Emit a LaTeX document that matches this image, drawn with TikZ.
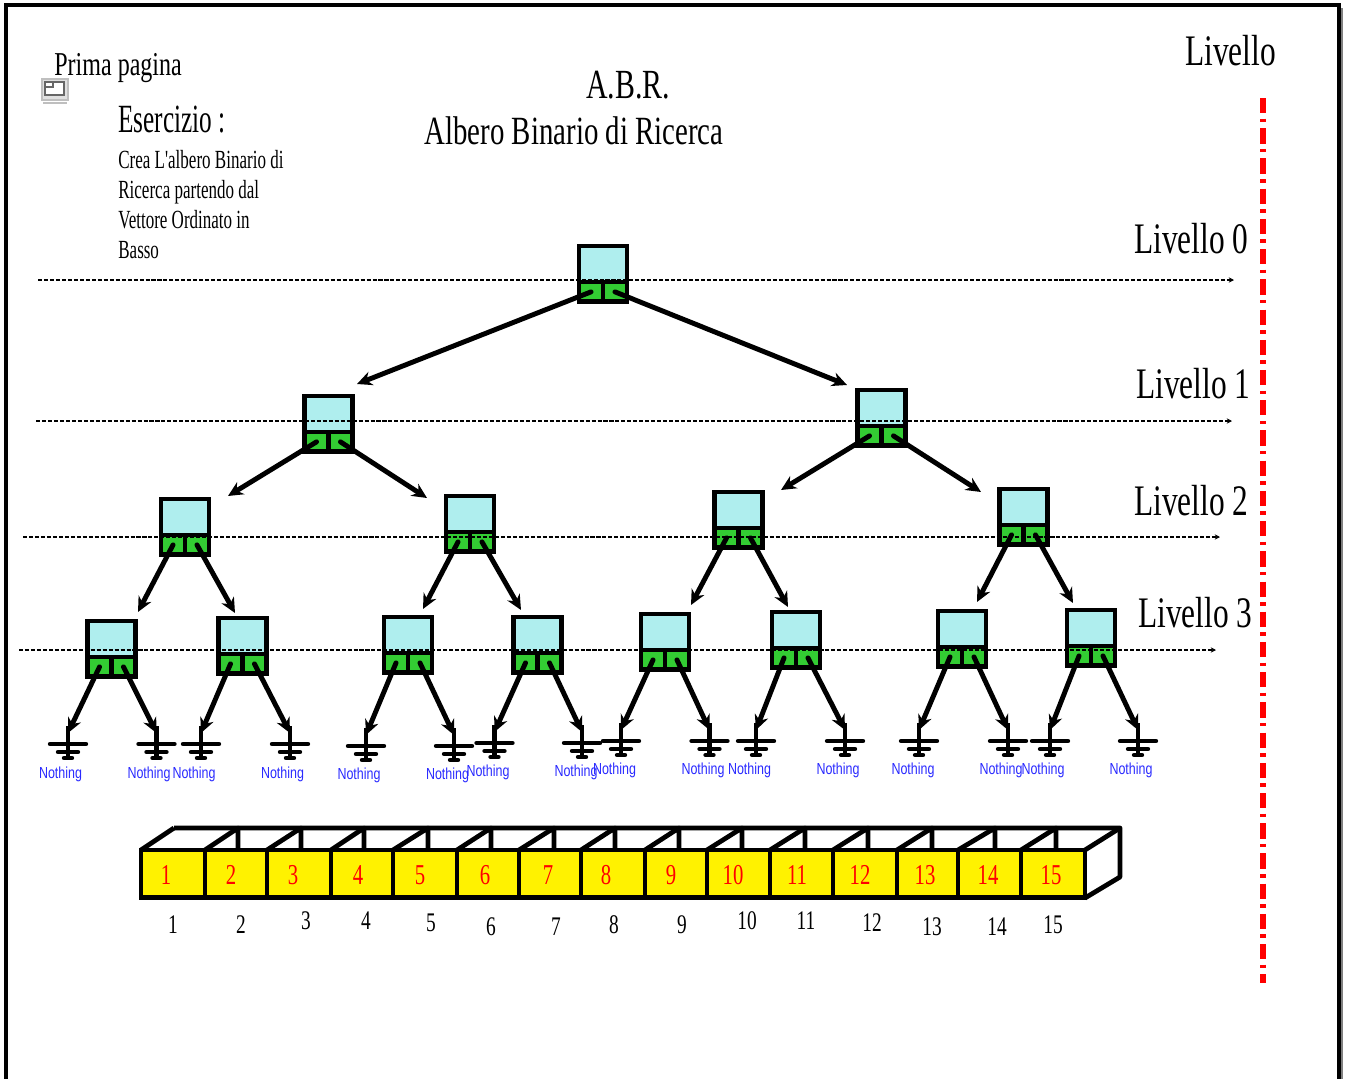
\documentclass[tikz,border=0pt]{standalone}
\usepackage{fontspec}
\usetikzlibrary{arrows.meta}
\newfontfamily\narrowserif[FakeStretch=0.72]{Liberation Serif}
\newfontfamily\tallserif[FakeStretch=0.63]{Liberation Serif}
\newfontfamily\bodyserif[FakeStretch=0.65]{Liberation Serif}
\newfontfamily\narrowsans[FakeStretch=0.78]{Liberation Sans}
\definecolor{cellcyan}{HTML}{AFEEEE}
\definecolor{ptrgreen}{HTML}{33CC33}
\definecolor{nothingblue}{HTML}{2A2AFF}
\begin{document}
\begin{tikzpicture}[x=0.02cm, y=0.02cm]
    \tikzstyle{every node}+=[inner sep=0pt]
    \tikzstyle{keycell}=[draw=black, line width=2.7pt, fill=cellcyan, outer sep=0pt, minimum width=27.2pt, minimum height=20.4pt]
    \tikzstyle{ptrcell}=[draw=black, line width=2.7pt, fill=ptrgreen, outer sep=0pt, minimum width=13.6pt, minimum height=11.3pt]
    \tikzstyle{link}=[line width=2.8pt, line cap=round, -{Stealth[length=8.5pt,width=8pt]}]
    \tikzstyle{levelline}=[line width=0.7pt, dash pattern=on 2.3pt off 1.1pt, -{Stealth[length=3pt,width=3pt]}]
    \tikzstyle{nothing}=[text=nothingblue, font=\narrowsans\fontsize{9.1}{11}\selectfont]
    \tikzstyle{levelname}=[anchor=base west, font=\narrowserif\fontsize{24.8}{30}\selectfont]
    \tikzstyle{arrcell}=[draw=black, line width=2.7pt, fill=yellow]
    \tikzstyle{arrback}=[draw=black, line width=2.7pt, line join=round]
    \tikzstyle{arrnum}=[text=red, font=\narrowserif\fontsize{16.4}{20}\selectfont]
    \tikzstyle{arridx}=[font=\narrowserif\fontsize{15.3}{18}\selectfont]
    \tikzset{gndmark/.pic={
        \draw [line width=2.8pt] (0,7) -- (0,-25);
        \draw [line width=2.5pt, line cap=round] (-18,-11) -- (18,-11);
        \draw [line width=2.5pt, line cap=round] (-10,-19) -- (10,-19);
        \draw [line width=2.5pt, line cap=round] (-4,-25) -- (4,-25);
    }}
    \useasboundingbox (0,0) rectangle (1347,-1079);

    % page frame
    \fill [black!50] (1339,-8) rectangle (1343,-1079);
    \draw [black, line width=1.8pt] (6,-1079) -- (6,-5) -- (1339,-5) -- (1339,-1079);
    \draw [black!25, fill=black!12, line width=0.8pt] (42,-79) rectangle (68,-100);
    \draw [black!25, line width=0.8pt] (43,-103) -- (67,-103);
    \draw [black!60, fill=white, line width=0.6pt] (45,-82) rectangle (64,-95);
    \draw [black!60, line width=0.6pt] (45,-87) -- (53,-87) -- (53,-82);

    % titles
    \draw (54,-75) node [anchor=base west, font=\narrowserif\fontsize{19}{23}\selectfont] (prima) {Prima pagina};
    \draw (118,-132) node [anchor=base west, font=\tallserif\fontsize{22.8}{27}\selectfont] (eser) {Esercizio :};
    \draw (118,-150) node [anchor=north west, align=left, font=\bodyserif\fontsize{14.9}{17}\selectfont] (testo) {Crea L'albero Binario di\\Ricerca partendo dal\\Vettore Ordinato in\\Basso};
    \draw (628,-98) node [anchor=base, font=\narrowserif\fontsize{23.6}{27}\selectfont] (abr) {A.B.R.};
    \draw (574,-144) node [anchor=base, font=\narrowserif\fontsize{22.8}{27}\selectfont] (albero) {Albero Binario di Ricerca};

    % livelli
    \draw (1185,-65) node [levelname] (lv) {Livello};
    \draw (1134,-253) node [levelname] (lv0) {Livello 0};
    \draw (1136,-398) node [levelname] (lv1) {Livello 1};
    \draw (1134,-515) node [levelname] (lv2) {Livello 2};
    \draw (1138,-627) node [levelname] (lv3) {Livello 3};
    \coordinate (redtop) at (1263,-98);
    \coordinate (redend) at (1263,-983);
    \draw [red, line width=2.9pt, dash pattern=on 8.7pt off 3pt on 2pt off 3.5pt] (redtop) -- (redend);

    % albero
    \draw (603,-264) node [keycell] (n0) {};
    \draw (328.5,-414) node [keycell] (n1) {};
    \draw (881.5,-408) node [keycell] (n2) {};
    \draw (185,-517) node [keycell] (n3) {};
    \draw (470,-514) node [keycell] (n4) {};
    \draw (738.5,-510) node [keycell] (n5) {};
    \draw (1023.5,-507) node [keycell] (n6) {};
    \draw (111.5,-639) node [keycell] (n7) {};
    \draw (242.5,-636) node [keycell] (n8) {};
    \draw (408,-635) node [keycell] (n9) {};
    \draw (537.5,-635) node [keycell] (n10) {};
    \draw (665,-632) node [keycell] (n11) {};
    \draw (796,-630) node [keycell] (n12) {};
    \draw (962,-629) node [keycell] (n13) {};
    \draw (1091,-628) node [keycell] (n14) {};
    \draw (n0.south west) node [ptrcell, anchor=north west] (n0l) {};
    \draw (n0.south east) node [ptrcell, anchor=north east] (n0r) {};
    \draw (n1.south west) node [ptrcell, anchor=north west] (n1l) {};
    \draw (n1.south east) node [ptrcell, anchor=north east] (n1r) {};
    \draw (n2.south west) node [ptrcell, anchor=north west] (n2l) {};
    \draw (n2.south east) node [ptrcell, anchor=north east] (n2r) {};
    \draw (n3.south west) node [ptrcell, anchor=north west] (n3l) {};
    \draw (n3.south east) node [ptrcell, anchor=north east] (n3r) {};
    \draw (n4.south west) node [ptrcell, anchor=north west] (n4l) {};
    \draw (n4.south east) node [ptrcell, anchor=north east] (n4r) {};
    \draw (n5.south west) node [ptrcell, anchor=north west] (n5l) {};
    \draw (n5.south east) node [ptrcell, anchor=north east] (n5r) {};
    \draw (n6.south west) node [ptrcell, anchor=north west] (n6l) {};
    \draw (n6.south east) node [ptrcell, anchor=north east] (n6r) {};
    \draw (n7.south west) node [ptrcell, anchor=north west] (n7l) {};
    \draw (n7.south east) node [ptrcell, anchor=north east] (n7r) {};
    \draw (n8.south west) node [ptrcell, anchor=north west] (n8l) {};
    \draw (n8.south east) node [ptrcell, anchor=north east] (n8r) {};
    \draw (n9.south west) node [ptrcell, anchor=north west] (n9l) {};
    \draw (n9.south east) node [ptrcell, anchor=north east] (n9r) {};
    \draw (n10.south west) node [ptrcell, anchor=north west] (n10l) {};
    \draw (n10.south east) node [ptrcell, anchor=north east] (n10r) {};
    \draw (n11.south west) node [ptrcell, anchor=north west] (n11l) {};
    \draw (n11.south east) node [ptrcell, anchor=north east] (n11r) {};
    \draw (n12.south west) node [ptrcell, anchor=north west] (n12l) {};
    \draw (n12.south east) node [ptrcell, anchor=north east] (n12r) {};
    \draw (n13.south west) node [ptrcell, anchor=north west] (n13l) {};
    \draw (n13.south east) node [ptrcell, anchor=north east] (n13r) {};
    \draw (n14.south west) node [ptrcell, anchor=north west] (n14l) {};
    \draw (n14.south east) node [ptrcell, anchor=north east] (n14r) {};

    % punte delle frecce
    \coordinate (t1) at (357,-384);
    \coordinate (t2) at (847,-385);
    \coordinate (t3) at (228,-496);
    \coordinate (t4) at (427,-498);
    \coordinate (t5) at (781,-490);
    \coordinate (t6) at (981,-492);
    \coordinate (t7) at (138,-612);
    \coordinate (t8) at (235,-613);
    \coordinate (t9) at (423,-609);
    \coordinate (t10) at (521,-610);
    \coordinate (t11) at (691,-605);
    \coordinate (t12) at (788,-607);
    \coordinate (t13) at (977,-602);
    \coordinate (t14) at (1073,-603);
    \draw [link] (n0l.center) -- (t1);
    \draw [link] (n0r.center) -- (t2);
    \draw [link] (n1l.center) -- (t3);
    \draw [link] (n1r.center) -- (t4);
    \draw [link] (n2l.center) -- (t5);
    \draw [link] (n2r.center) -- (t6);
    \draw [link] (n3l.center) -- (t7);
    \draw [link] (n3r.center) -- (t8);
    \draw [link] (n4l.center) -- (t9);
    \draw [link] (n4r.center) -- (t10);
    \draw [link] (n5l.center) -- (t11);
    \draw [link] (n5r.center) -- (t12);
    \draw [link] (n6l.center) -- (t13);
    \draw [link] (n6r.center) -- (t14);

    % Nothing
    \coordinate (g1) at (68,-733);
    \coordinate (g2) at (156.5,-733);
    \coordinate (g3) at (201,-733);
    \coordinate (g4) at (290,-733);
    \coordinate (g5) at (366,-735);
    \coordinate (g6) at (454,-735);
    \coordinate (g7) at (494.5,-732);
    \coordinate (g8) at (582,-732);
    \coordinate (g9) at (621,-730);
    \coordinate (g10) at (709.5,-730);
    \coordinate (g11) at (756,-730);
    \coordinate (g12) at (845,-730);
    \coordinate (g13) at (919,-730);
    \coordinate (g14) at (1008,-730);
    \coordinate (g15) at (1050,-730);
    \coordinate (g16) at (1138,-730);
    \draw (g1) pic {gndmark};
    \draw (g2) pic {gndmark};
    \draw (g3) pic {gndmark};
    \draw (g4) pic {gndmark};
    \draw (g5) pic {gndmark};
    \draw (g6) pic {gndmark};
    \draw (g7) pic {gndmark};
    \draw (g8) pic {gndmark};
    \draw (g9) pic {gndmark};
    \draw (g10) pic {gndmark};
    \draw (g11) pic {gndmark};
    \draw (g12) pic {gndmark};
    \draw (g13) pic {gndmark};
    \draw (g14) pic {gndmark};
    \draw (g15) pic {gndmark};
    \draw (g16) pic {gndmark};
    \draw [link] (n7l.center) -- (g1);
    \draw [link] (n7r.center) -- (g2);
    \draw [link] (n8l.center) -- (g3);
    \draw [link] (n8r.center) -- (g4);
    \draw [link] (n9l.center) -- (g5);
    \draw [link] (n9r.center) -- (g6);
    \draw [link] (n10l.center) -- (g7);
    \draw [link] (n10r.center) -- (g8);
    \draw [link] (n11l.center) -- (g9);
    \draw [link] (n11r.center) -- (g10);
    \draw [link] (n12l.center) -- (g11);
    \draw [link] (n12r.center) -- (g12);
    \draw [link] (n13l.center) -- (g13);
    \draw [link] (n13r.center) -- (g14);
    \draw [link] (n14l.center) -- (g15);
    \draw [link] (n14r.center) -- (g16);
    \draw (60.5,-774) node [nothing] (z1) {Nothing};
    \draw (149,-774) node [nothing] (z2) {Nothing};
    \draw (194,-774) node [nothing] (z3) {Nothing};
    \draw (282.5,-774) node [nothing] (z4) {Nothing};
    \draw (359,-775) node [nothing] (z5) {Nothing};
    \draw (447.5,-775) node [nothing] (z6) {Nothing};
    \draw (488,-772) node [nothing] (z7) {Nothing};
    \draw (576,-772) node [nothing] (z8) {Nothing};
    \draw (614.5,-770) node [nothing] (z9) {Nothing};
    \draw (703,-770) node [nothing] (z10) {Nothing};
    \draw (749.5,-770) node [nothing] (z11) {Nothing};
    \draw (838,-770) node [nothing] (z12) {Nothing};
    \draw (913,-770) node [nothing] (z13) {Nothing};
    \draw (1001,-770) node [nothing] (z14) {Nothing};
    \draw (1043,-770) node [nothing] (z15) {Nothing};
    \draw (1131,-770) node [nothing] (z16) {Nothing};

    % linee dei livelli
    \coordinate (d0a) at (38,-280);
    \coordinate (d0b) at (1234,-280);
    \coordinate (d1a) at (36,-421);
    \coordinate (d1b) at (1232,-421);
    \coordinate (d2a) at (23,-537);
    \coordinate (d2b) at (1220,-537);
    \coordinate (d3a) at (19,-650);
    \coordinate (d3b) at (1216,-650);
    \draw [levelline] (d0a) -- (d0b);
    \draw [levelline] (d1a) -- (d1b);
    \draw [levelline] (d2a) -- (d2b);
    \draw [levelline] (d3a) -- (d3b);

    % vettore
    \draw [arrback] (174,-828) -- (1120,-828) -- (1120,-877) -- (1085,-898);
    \draw [arrback] (1085,-850) -- (1120,-828);
    \draw [arrback] (141,-850) -- (174,-828);
    \draw [arrback] (205,-850) -- (238,-828) -- (238,-850);
    \draw [arrback] (267,-850) -- (301,-828) -- (301,-850);
    \draw [arrback] (331,-850) -- (364,-828) -- (364,-850);
    \draw [arrback] (393,-850) -- (428,-828) -- (428,-850);
    \draw [arrback] (457,-850) -- (491,-828) -- (491,-850);
    \draw [arrback] (519,-850) -- (554,-828) -- (554,-850);
    \draw [arrback] (581,-850) -- (615,-828) -- (615,-850);
    \draw [arrback] (645,-850) -- (679,-828) -- (679,-850);
    \draw [arrback] (707,-850) -- (742,-828) -- (742,-850);
    \draw [arrback] (770,-850) -- (805,-828) -- (805,-850);
    \draw [arrback] (833,-850) -- (868,-828) -- (868,-850);
    \draw [arrback] (897,-850) -- (932,-828) -- (932,-850);
    \draw [arrback] (958,-850) -- (995,-828) -- (995,-850);
    \draw [arrback] (1021,-850) -- (1056,-828) -- (1056,-850);
    \draw [arrcell] (141,-850) rectangle (205,-897.5);
    \draw [arrcell] (205,-850) rectangle (267,-897.5);
    \draw [arrcell] (267,-850) rectangle (331,-897.5);
    \draw [arrcell] (331,-850) rectangle (393,-897.5);
    \draw [arrcell] (393,-850) rectangle (457,-897.5);
    \draw [arrcell] (457,-850) rectangle (519,-897.5);
    \draw [arrcell] (519,-850) rectangle (581,-897.5);
    \draw [arrcell] (581,-850) rectangle (645,-897.5);
    \draw [arrcell] (645,-850) rectangle (707,-897.5);
    \draw [arrcell] (707,-850) rectangle (770,-897.5);
    \draw [arrcell] (770,-850) rectangle (833,-897.5);
    \draw [arrcell] (833,-850) rectangle (897,-897.5);
    \draw [arrcell] (897,-850) rectangle (958,-897.5);
    \draw [arrcell] (958,-850) rectangle (1021,-897.5);
    \draw [arrcell] (1021,-850) rectangle (1085,-897.5);
    \draw (166,-875) node [arrnum] (v1) {1};
    \draw (231,-875) node [arrnum] (v2) {2};
    \draw (293,-875) node [arrnum] (v3) {3};
    \draw (358,-875) node [arrnum] (v4) {4};
    \draw (420,-875) node [arrnum] (v5) {5};
    \draw (485,-875) node [arrnum] (v6) {6};
    \draw (548,-875) node [arrnum] (v7) {7};
    \draw (606,-875) node [arrnum] (v8) {8};
    \draw (671,-875) node [arrnum] (v9) {9};
    \draw (733,-875) node [arrnum] (v10) {10};
    \draw (797,-875) node [arrnum] (v11) {11};
    \draw (860,-875) node [arrnum] (v12) {12};
    \draw (925,-875) node [arrnum] (v13) {13};
    \draw (988,-875) node [arrnum] (v14) {14};
    \draw (1051,-875) node [arrnum] (v15) {15};
    \draw (173,-925) node [arridx] (i1) {1};
    \draw (241,-925) node [arridx] (i2) {2};
    \draw (306,-921) node [arridx] (i3) {3};
    \draw (366,-921) node [arridx] (i4) {4};
    \draw (431,-923) node [arridx] (i5) {5};
    \draw (491,-927) node [arridx] (i6) {6};
    \draw (556,-927) node [arridx] (i7) {7};
    \draw (614,-925) node [arridx] (i8) {8};
    \draw (682,-925) node [arridx] (i9) {9};
    \draw (747,-921) node [arridx] (i10) {10};
    \draw (806,-921) node [arridx] (i11) {11};
    \draw (872,-923) node [arridx] (i12) {12};
    \draw (932,-927) node [arridx] (i13) {13};
    \draw (997,-927) node [arridx] (i14) {14};
    \draw (1053,-925) node [arridx] (i15) {15};
\end{tikzpicture}
\end{document}
